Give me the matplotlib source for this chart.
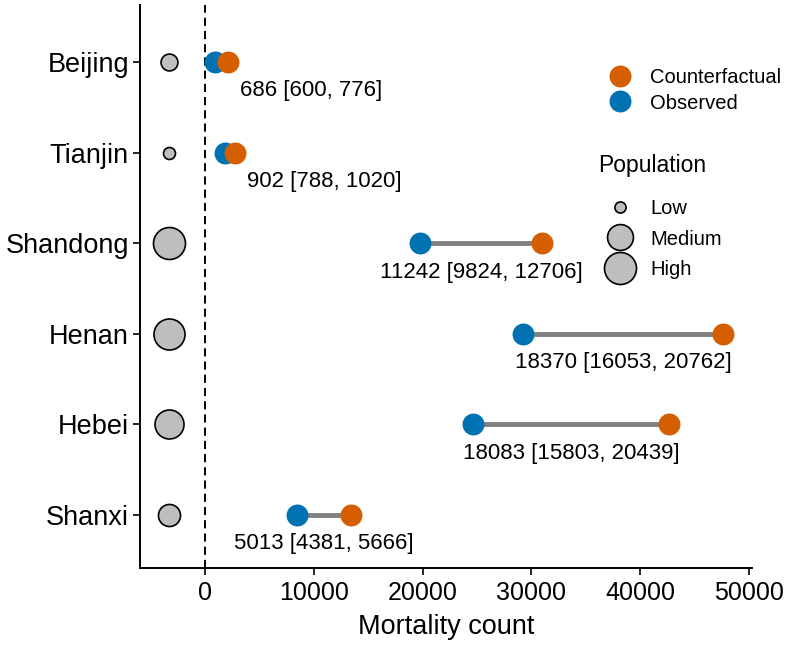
import numpy as np
import matplotlib
matplotlib.use("Agg")
import matplotlib.pyplot as plt
from matplotlib.lines import Line2D

plt.rcParams['font.family'] = ['Liberation Sans', 'DejaVu Sans']

provinces = ['Beijing', 'Tianjin', 'Shandong', 'Henan', 'Hebei', 'Shanxi']
observed = [950, 1840, 19800, 29250, 24650, 8450]
counterfactual = [2100, 2760, 31000, 47600, 42650, 13450]
labels = ['686 [600, 776]', '902 [788, 1020]', '11242 [9824, 12706]',
          '18370 [16053, 20762]', '18083 [15803, 20439]', '5013 [4381, 5666]']
population = [28, 14, 101, 95, 83, 48]  # millions (approx)
pop_legend = {'Low': 12, 'Medium': 66, 'High': 101}

col_obs = '#0072B2'
col_cf = '#D55E00'

def pop_to_ms(p):
    # area-proportional sizing, diameter in points
    d_min, d_max = 12 * 0.72, 32 * 0.72
    f = (p - 14) / (101 - 14)
    return np.sqrt(d_min**2 + f * (d_max**2 - d_min**2))

fig = plt.figure(figsize=(7.92, 6.47), dpi=100)
ax = fig.add_axes([0.1768, 1 - 568 / 647, 0.7727, 563 / 647])

n = len(provinces)
ypos = np.arange(n)[::-1]

ax.axvline(0, color='black', linestyle=(0, (4.2, 2.6)), linewidth=1.4, zorder=1)

for i in range(n):
    y = ypos[i]
    ax.plot([observed[i], counterfactual[i]], [y, y], color='#808080', linewidth=3.5,
            solid_capstyle='butt', zorder=2)
    ax.plot(observed[i], y, 'o', color=col_obs, markersize=15.8, markeredgewidth=0, zorder=3)
    ax.plot(counterfactual[i], y, 'o', color=col_cf, markersize=15.8, markeredgewidth=0, zorder=4)
    ax.plot(-3300, y, 'o', markerfacecolor='#BEBEBE', markeredgecolor='black',
            markeredgewidth=1.2, markersize=pop_to_ms(population[i]), zorder=3)
    gap = counterfactual[i] - observed[i]
    if gap < 3000:
        ax.text(counterfactual[i] + 1100, y - 0.32, labels[i], fontsize=16,
                ha='left', va='center')
    else:
        ax.text((observed[i] + counterfactual[i]) / 2, y - 0.32, labels[i], fontsize=16,
                ha='center', va='center')

ax.set_xlim(-5950, 50250)
ax.set_ylim(-0.585, n - 1 + 0.629)
ax.set_yticks(ypos)
ax.set_yticklabels(provinces, fontsize=19.5)
ax.set_xticks([0, 10000, 20000, 30000, 40000, 50000])
ax.tick_params(axis='x', labelsize=18, length=5, width=1.2, pad=4)
ax.tick_params(axis='y', length=5, width=1.2, pad=3)
ax.set_xlabel('Mortality count', fontsize=19.5, labelpad=7)
for s in ['top', 'right']:
    ax.spines[s].set_visible(False)
for s in ['left', 'bottom']:
    ax.spines[s].set_linewidth(1.4)

h1 = [Line2D([], [], marker='o', linestyle='', color=col_cf, markersize=15.8, markeredgewidth=0),
      Line2D([], [], marker='o', linestyle='', color=col_obs, markersize=15.8, markeredgewidth=0)]
leg1 = ax.legend(h1, ['Counterfactual', 'Observed'], loc='upper left',
                 bbox_to_anchor=(0.765, 0.888), frameon=False, fontsize=14.5,
                 labelspacing=0.32, handletextpad=0.9, handlelength=1.2,
                 borderpad=0, borderaxespad=0)
ax.add_artist(leg1)

ax.text(0.748, 0.703, 'Population', transform=ax.transAxes, fontsize=16.5,
        ha='left', va='baseline')
h2 = [Line2D([], [], marker='o', linestyle='', markerfacecolor='#BEBEBE', markeredgecolor='black',
             markeredgewidth=1.2, markersize=pop_to_ms(v)) for v in pop_legend.values()]
leg2 = ax.legend(h2, list(pop_legend.keys()), loc='upper left',
                 bbox_to_anchor=(0.765, 0.655), frameon=False, fontsize=14.5,
                 labelspacing=0.56, handletextpad=0.9, handlelength=1.2,
                 borderpad=0, borderaxespad=0)

fig.savefig('out.png', dpi=100)
